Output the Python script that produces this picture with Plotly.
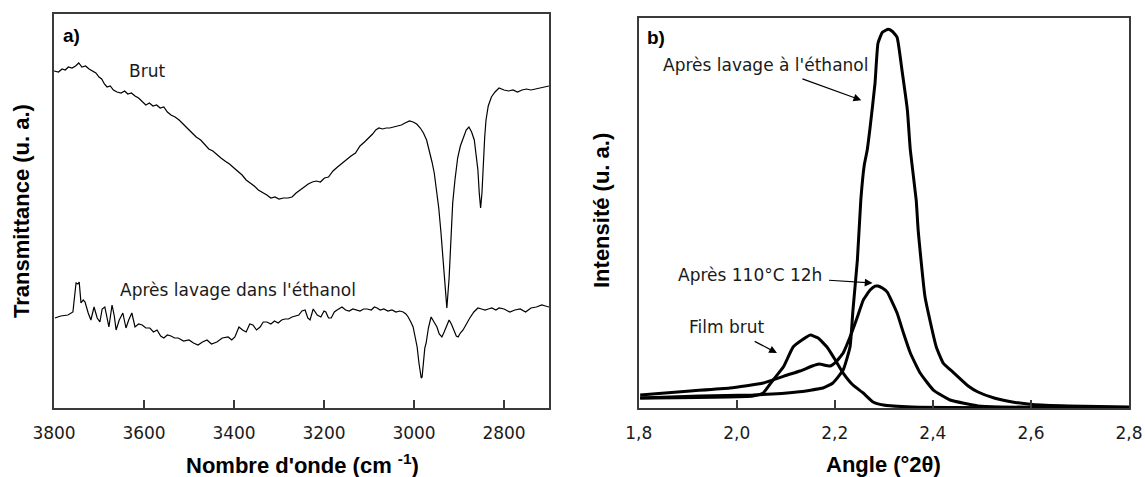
import plotly.graph_objects as go

# ---------------- Panel a) FTIR ----------------
wn_brut = [3800, 3790, 3782, 3775, 3768, 3760, 3752, 3745, 3738, 3730, 3722, 3714, 3707, 3700, 3694,
           3688, 3682, 3675, 3668, 3660, 3651, 3643, 3636, 3628, 3620, 3612, 3604, 3596, 3588, 3580,
           3572, 3564, 3556, 3548, 3540, 3531, 3522, 3512, 3502, 3493, 3484, 3474, 3465, 3456, 3447,
           3438, 3429, 3420, 3410, 3400, 3390, 3382, 3373, 3364, 3355, 3346, 3337, 3327, 3318, 3309,
           3300, 3290, 3280, 3271, 3262, 3253, 3244, 3235, 3226, 3217, 3208, 3199, 3190, 3180, 3170,
           3160, 3150, 3140, 3130, 3120, 3110, 3100, 3092, 3085, 3078, 3070, 3062, 3054, 3045, 3036,
           3028, 3020, 3010, 3002, 2994, 2986, 2979, 2972, 2966, 2960, 2955, 2950, 2945, 2940, 2935,
           2931, 2927, 2922, 2918, 2914, 2909, 2903, 2897, 2890, 2884, 2878, 2872, 2866, 2862, 2858,
           2855, 2852, 2849, 2846, 2843, 2840, 2835, 2828, 2820, 2811, 2800, 2790, 2780, 2770, 2760,
           2750, 2740, 2730, 2720, 2710, 2700]
t_brut = [337, 336, 339, 338, 341, 340, 342, 345, 341, 342, 339, 337, 335, 331, 329,
          324, 321, 322, 318, 316, 315, 317, 314, 315, 312, 310, 306, 303, 305, 302,
          303, 300, 301, 296, 293, 291, 288, 284, 279, 275, 271, 268, 263, 259, 257,
          253, 250, 247, 244, 240, 236, 233, 228, 225, 222, 218, 216, 213, 210, 211,
          209, 210, 210, 211, 215, 218, 221, 224, 226, 227, 226, 230, 231, 237, 241,
          245, 248, 252, 255, 262, 266, 270, 274, 278, 280, 279, 280, 280, 281, 282,
          283, 285, 287, 286, 284, 280, 275, 268, 258, 246, 235, 220, 200, 175, 145,
          118, 100, 130, 175, 205, 228, 250, 262, 270, 278, 281, 276, 268, 255, 238,
          215, 200, 215, 245, 270, 288, 302, 311, 316, 320, 318, 317, 318, 316, 318,
          319, 318, 319, 320, 321, 322]

wn_eth = [3798, 3785, 3769, 3758, 3751, 3747, 3744, 3740, 3735, 3731, 3724, 3718, 3711, 3704, 3698,
          3693, 3687, 3682, 3678, 3671, 3666, 3662, 3655, 3647, 3640, 3634, 3627, 3620, 3612, 3604,
          3596, 3587, 3579, 3571, 3563, 3556, 3548, 3540, 3532, 3524, 3512, 3500, 3490, 3480, 3470,
          3460, 3450, 3438, 3426, 3413, 3405, 3398, 3389, 3381, 3373, 3365, 3358, 3350, 3342, 3335,
          3327, 3318, 3310, 3302, 3294, 3287, 3279, 3271, 3264, 3256, 3249, 3242, 3236, 3231, 3224,
          3215, 3207, 3200, 3196, 3190, 3184, 3177, 3171, 3165, 3160, 3152, 3144, 3136, 3129, 3120,
          3112, 3104, 3095, 3088, 3082, 3075, 3067, 3058, 3049, 3040, 3032, 3024, 3018, 3013, 3007,
          3002, 2997, 2993, 2989, 2986, 2984, 2982, 2979, 2976, 2973, 2968, 2962, 2956, 2949, 2944,
          2938, 2933, 2929, 2925, 2922, 2917, 2911, 2906, 2902, 2897, 2891, 2884, 2876, 2867, 2858,
          2850, 2842, 2835, 2827, 2818, 2811, 2800, 2787, 2776, 2764, 2752, 2740, 2728, 2716, 2708, 2700]
t_eth = [90, 92, 93, 96, 125, 124, 126, 105, 108, 106, 95, 88, 101, 90, 86,
         99, 101, 90, 81, 103, 92, 78, 88, 95, 80, 88, 95, 81, 84, 83,
         80, 80, 76, 78, 72, 70, 73, 72, 70, 70, 67, 68, 65, 63, 66,
         68, 64, 66, 70, 71, 68, 71, 81, 78, 76, 84, 83, 78, 81, 86,
         86, 84, 87, 85, 88, 89, 89, 91, 92, 93, 97, 98, 90, 88, 99,
         93, 91, 97, 96, 90, 90, 96, 98, 100, 101, 98, 97, 99, 98, 97,
         99, 99, 98, 101, 100, 98, 99, 97, 98, 96, 97, 96, 94, 91, 86,
         81, 70, 61, 45, 32, 30, 31, 45, 60, 65, 80, 91, 86, 81, 74,
         71, 76, 81, 86, 88, 84, 78, 72, 71, 75, 78, 84, 90, 96, 100,
         99, 98, 99, 100, 98, 100, 99, 96, 98, 99, 96, 100, 101, 103, 102, 101]

wn_ticks = [3800, 3600, 3400, 3200, 3000, 2800]
wn_tick_labels = ["3800", "3600", "3400", "3200", "3000", "2800"]

# ---------------- Panel b) XRD ----------------
ang_eth = [1.803, 1.925, 2.033, 2.123, 2.176, 2.196, 2.217, 2.231, 2.237, 2.246, 2.253, 2.260, 2.266,
           2.272, 2.282, 2.288, 2.297, 2.309, 2.317, 2.327, 2.337, 2.348, 2.354, 2.366, 2.370, 2.384,
           2.407, 2.421, 2.443, 2.472, 2.492, 2.525, 2.562, 2.603, 2.676, 2.800]
int_eth = [10, 12, 13, 16, 20, 25, 38, 61, 98, 148, 208, 243, 258,
           281, 325, 365, 376, 379, 377, 371, 338, 298, 258, 208, 178, 111,
           61, 45, 35, 22, 16, 10, 6, 3.5, 2, 1]

ang_110 = [1.803, 1.905, 1.986, 2.054, 2.103, 2.129, 2.154, 2.168, 2.190, 2.202, 2.217, 2.231, 2.246,
           2.258, 2.272, 2.282, 2.288, 2.297, 2.307, 2.317, 2.327, 2.340, 2.354, 2.374, 2.401, 2.435,
           2.492, 2.537, 2.800]
int_110 = [13, 17, 20, 25, 33, 37, 42, 44, 42, 46, 55, 71, 91,
           108, 118, 122, 122, 120, 116, 106, 95, 75, 55, 35, 18, 8,
           2, 1, 0]

ang_brut = [1.803, 2.033, 2.054, 2.074, 2.095, 2.115, 2.133, 2.150, 2.166, 2.184, 2.201, 2.217, 2.237,
            2.258, 2.278, 2.299, 2.358, 2.800]
int_brut = [10, 12, 15, 28, 41, 61, 68, 73, 70, 61, 48, 35, 23,
            15, 6, 3, 1, 0]

ang_ticks = [1.8, 2.0, 2.2, 2.4, 2.6, 2.8]
ang_tick_labels = ["1,8", "2,0", "2,2", "2,4", "2,6", "2,8"]

# ---------------- figure ----------------
W, H = 1145, 477
def px(x):
    return x / W
def py(y):
    return 1 - y / H

AX_COL = "#3a3a3a"
TXT = "#1a1a1a"
TICK_FONT = dict(family="DejaVu Sans", size=17, color=TXT)
TITLE_FONT = dict(family="Liberation Sans, Arial", size=22, color="#000000", weight="bold")
ANN_FONT = dict(family="DejaVu Sans", size=17, color=TXT)

fig = go.Figure()
fig.add_trace(go.Scatter(x=wn_brut, y=t_brut, mode="lines", xaxis="x", yaxis="y",
                         line=dict(color="#000000", width=1.2), showlegend=False))
fig.add_trace(go.Scatter(x=wn_eth, y=t_eth, mode="lines", xaxis="x", yaxis="y",
                         line=dict(color="#000000", width=1.2), showlegend=False))
for xs, ys in [(ang_brut, int_brut), (ang_110, int_110), (ang_eth, int_eth)]:
    fig.add_trace(go.Scatter(x=xs, y=ys, mode="lines", xaxis="x2", yaxis="y2",
                             line=dict(color="#000000", width=3, shape="spline", smoothing=0.4),
                             showlegend=False))

common_x = dict(showline=True, mirror=True, linecolor=AX_COL, linewidth=1.5,
                ticks="inside", ticklen=8, tickwidth=1.5, tickcolor=AX_COL, automargin=False,
                showgrid=False, zeroline=False, tickfont=TICK_FONT, ticklabelstandoff=9)
common_y = dict(showline=True, mirror=True, linecolor=AX_COL, linewidth=1.5, automargin=False,
                ticks="", showticklabels=False, showgrid=False, zeroline=False)

fig.update_layout(
    template="none",
    width=W, height=H, autosize=False,
    margin=dict(l=0, r=0, t=0, b=0, pad=0),
    paper_bgcolor="white", plot_bgcolor="white",
    xaxis=dict(domain=[px(54), px(549)], range=[3800, 2700], anchor="y",
               tickvals=wn_ticks, ticktext=wn_tick_labels, **common_x),
    yaxis=dict(domain=[py(408), py(14)], range=[0, 394], anchor="x", **common_y),
    xaxis2=dict(domain=[px(638.7), px(1129)], range=[1.8, 2.8], anchor="y2",
                tickvals=ang_ticks, ticktext=ang_tick_labels, **common_x),
    yaxis2=dict(domain=[py(408), py(18.3)], range=[0, 390], anchor="x2", **common_y),
)

ann = []
# axis titles
ann.append(dict(text="Nombre d'onde (cm <sup>-1</sup>)", x=px(302), y=py(464), xref="paper", yref="paper",
                showarrow=False, font=TITLE_FONT, xanchor="center", yanchor="middle"))
ann.append(dict(text="Transmittance (u. a.)", x=px(21), y=py(211), xref="paper", yref="paper",
                showarrow=False, font=TITLE_FONT, textangle=-90, xanchor="center", yanchor="middle"))
ann.append(dict(text="Angle (°2θ)", x=px(883), y=py(464), xref="paper", yref="paper",
                showarrow=False, font=TITLE_FONT, xanchor="center", yanchor="middle"))
ann.append(dict(text="Intensité (u. a.)", x=px(601), y=py(211), xref="paper", yref="paper",
                showarrow=False, font=TITLE_FONT, textangle=-90, xanchor="center", yanchor="middle"))
# panel labels
ann.append(dict(text="<b>a)</b>", x=px(61), y=py(36), xref="paper", yref="paper", showarrow=False,
                font=dict(family="Liberation Sans, Arial", size=19, color="#000"), xanchor="left", yanchor="middle"))
ann.append(dict(text="<b>b)</b>", x=px(645), y=py(37), xref="paper", yref="paper", showarrow=False,
                font=dict(family="Liberation Sans, Arial", size=19, color="#000"), xanchor="left", yanchor="middle"))
# curve labels panel a
ann.append(dict(text="Brut", x=3638, y=337, xref="x", yref="y", showarrow=False,
                font=ANN_FONT, xanchor="left", yanchor="middle"))
ann.append(dict(text="Après lavage dans l'éthanol", x=3657, y=118, xref="x", yref="y", showarrow=False,
                font=ANN_FONT, xanchor="left", yanchor="middle"))
# curve labels panel b, with arrows (text centred at tail, arrow head on the curve)
for (txt, tx, ty, hx, hy) in [("Après lavage à l'éthanol", 2.058, 343, 2.254, 308),
                               ("Après 110°C 12h", 2.026, 133, 2.277, 125),
                               ("Film brut", 1.981, 81, 2.082, 55)]:
    ann.append(dict(text=txt, x=hx, y=hy, ax=tx, ay=ty, xref="x2", yref="y2", axref="x2", ayref="y2",
                    showarrow=True, arrowhead=2, arrowsize=1.3, arrowwidth=1.2, arrowcolor="#000",
                    standoff=0, startstandoff=6, font=ANN_FONT))

fig.update_layout(annotations=ann)
fig.write_html("out.html", config={"displayModeBar": False},
               post_script="document.body.style.margin='0';document.body.style.overflow='hidden';")
